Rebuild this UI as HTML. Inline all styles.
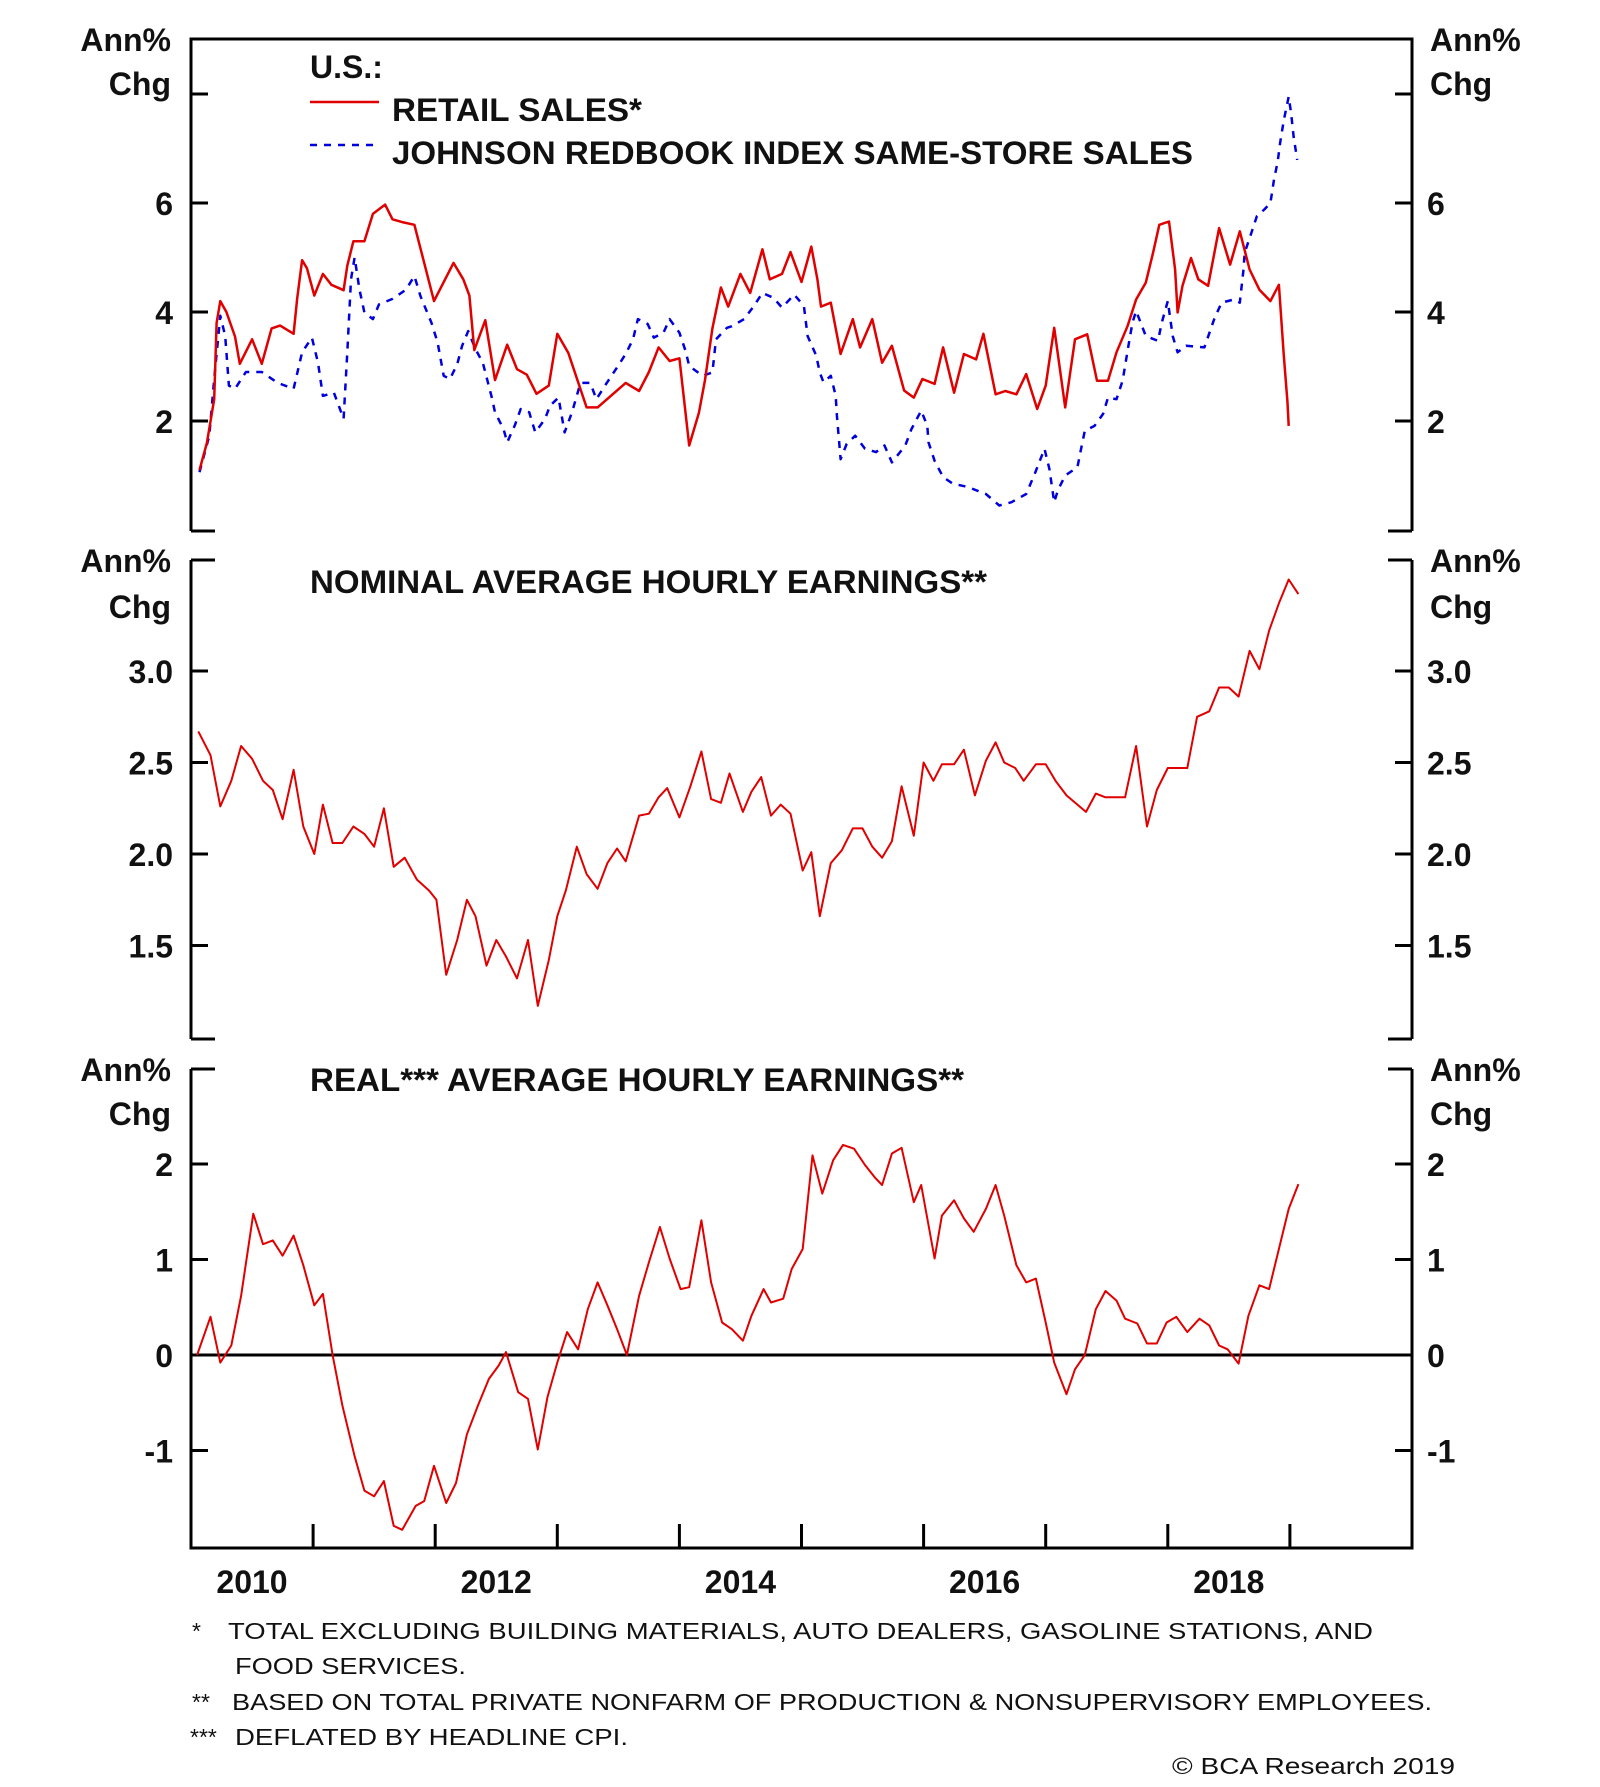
<!DOCTYPE html>
<html><head><meta charset="utf-8"><style>
html,body{margin:0;padding:0;background:#fff;}
svg{display:block;}
text{font-family:"Liberation Sans",sans-serif;}
.lab{font-weight:bold;font-size:32px;fill:#111;}
.foot{font-size:23px;fill:#111;}
</style></head><body>
<svg id="chart" width="1600" height="1787" viewBox="0 0 1600 1787" xmlns="http://www.w3.org/2000/svg">
<g id="frame"></g>
<g id="marks"></g>
<g id="labels">
  <text class="lab" x="171" y="51" text-anchor="end">Ann%</text>
  <text class="lab" x="171" y="95" text-anchor="end">Chg</text>
  <text class="lab" x="1430" y="51">Ann%</text>
  <text class="lab" x="1430" y="95">Chg</text>
  <text class="lab" x="171" y="572" text-anchor="end">Ann%</text>
  <text class="lab" x="171" y="618" text-anchor="end">Chg</text>
  <text class="lab" x="1430" y="572">Ann%</text>
  <text class="lab" x="1430" y="618">Chg</text>
  <text class="lab" x="171" y="1081" text-anchor="end">Ann%</text>
  <text class="lab" x="171" y="1125" text-anchor="end">Chg</text>
  <text class="lab" x="1430" y="1081">Ann%</text>
  <text class="lab" x="1430" y="1125">Chg</text>

  <text class="lab" x="310" y="78">U.S.:</text>
  <line x1="310" y1="102" x2="379" y2="102" stroke="#e00000" stroke-width="2.5"/>
  <text class="lab" x="392" y="121" textLength="250" lengthAdjust="spacingAndGlyphs">RETAIL SALES*</text>
  <line x1="310" y1="145" x2="379" y2="145" stroke="#0000dd" stroke-width="2.5" stroke-dasharray="7,7"/>
  <text class="lab" x="392" y="164" textLength="801" lengthAdjust="spacingAndGlyphs">JOHNSON REDBOOK INDEX SAME-STORE SALES</text>
  <text class="lab" x="310" y="593" textLength="677" lengthAdjust="spacingAndGlyphs">NOMINAL AVERAGE HOURLY EARNINGS**</text>
  <text class="lab" x="310" y="1091" textLength="654" lengthAdjust="spacingAndGlyphs">REAL*** AVERAGE HOURLY EARNINGS**</text>

  <text class="foot" x="192" y="1639">*</text>
  <text class="foot" x="228" y="1639" textLength="1145" lengthAdjust="spacingAndGlyphs">TOTAL EXCLUDING BUILDING MATERIALS, AUTO DEALERS, GASOLINE STATIONS, AND</text>
  <text class="foot" x="235" y="1674" textLength="231" lengthAdjust="spacingAndGlyphs">FOOD SERVICES.</text>
  <text class="foot" x="192" y="1710">**</text>
  <text class="foot" x="232" y="1710" textLength="1200" lengthAdjust="spacingAndGlyphs">BASED ON TOTAL PRIVATE NONFARM OF PRODUCTION &amp; NONSUPERVISORY EMPLOYEES.</text>
  <text class="foot" x="190" y="1745">***</text>
  <text class="foot" x="235" y="1745" textLength="393" lengthAdjust="spacingAndGlyphs">DEFLATED BY HEADLINE CPI.</text>
  <text class="foot" x="1455" y="1774" text-anchor="end" textLength="283" lengthAdjust="spacingAndGlyphs">© BCA Research 2019</text>
</g>
</svg>
<script>
// ---- data ----
const yearTicks = [2011,2012,2013,2014,2015,2016,2017,2018,2019];
const yearLabels = [2010,2012,2014,2016,2018];
const p1Ticks = [2,4,6,8];
const p1TickLabels = ["2","4","6",""];
const p2Ticks = [1.5,2.0,2.5,3.0];
const p2TickLabels = ["1.5","2.0","2.5","3.0"];
const p3Ticks = [-1,0,1,2];
const p3TickLabels = ["-1","0","1","2"];

const retailT = [0.07,0.13,0.19,0.21,0.24,0.29,0.36,0.40,0.50,0.58,0.66,0.73,0.84,0.87,0.91,0.95,1.01,1.08,1.15,1.25,1.28,1.33,1.42,1.49,1.59,1.65,1.73,1.83,1.91,1.99,2.15,2.23,2.28,2.32,2.41,2.49,2.59,2.67,2.75,2.83,2.93,3.00,3.09,3.24,3.33,3.56,3.67,3.75,3.83,3.92,4.00,4.08,4.16,4.21,4.27,4.34,4.40,4.50,4.58,4.68,4.74,4.84,4.91,5.00,5.08,5.13,5.16,5.24,5.32,5.42,5.48,5.58,5.66,5.74,5.84,5.92,5.99,6.09,6.16,6.25,6.33,6.43,6.49,6.59,6.67,6.76,6.84,6.93,7.00,7.07,7.16,7.24,7.34,7.42,7.51,7.58,7.67,7.74,7.82,7.88,7.93,8.01,8.06,8.08,8.12,8.19,8.25,8.33,8.42,8.51,8.59,8.67,8.75,8.84,8.91,8.95,8.98,8.99];
const retailV = [1.1,1.6,2.4,3.8,4.2,4.0,3.55,3.05,3.5,3.05,3.7,3.75,3.6,4.25,4.95,4.8,4.3,4.7,4.5,4.4,4.85,5.3,5.3,5.8,5.97,5.7,5.65,5.6,4.9,4.2,4.9,4.6,4.3,3.3,3.85,2.75,3.4,2.95,2.85,2.5,2.65,3.6,3.25,2.25,2.25,2.7,2.55,2.9,3.35,3.1,3.15,1.55,2.15,2.75,3.7,4.45,4.1,4.7,4.35,5.15,4.6,4.7,5.1,4.55,5.2,4.6,4.1,4.17,3.23,3.87,3.35,3.87,3.07,3.38,2.56,2.43,2.77,2.68,3.35,2.52,3.23,3.13,3.6,2.49,2.55,2.49,2.86,2.22,2.65,3.71,2.25,3.5,3.59,2.74,2.74,3.26,3.74,4.23,4.54,5.09,5.6,5.66,4.78,3.99,4.48,4.99,4.6,4.48,5.54,4.87,5.48,4.78,4.41,4.2,4.5,3.2,2.34,1.91];

const redbookT = [0.07,0.15,0.19,0.24,0.28,0.31,0.36,0.45,0.58,0.71,0.84,0.91,0.99,1.04,1.08,1.17,1.25,1.28,1.31,1.34,1.38,1.42,1.49,1.54,1.65,1.76,1.83,1.88,1.97,2.02,2.07,2.12,2.18,2.22,2.27,2.33,2.39,2.46,2.49,2.56,2.59,2.65,2.70,2.77,2.82,2.90,2.94,3.01,3.06,3.12,3.19,3.27,3.32,3.40,3.48,3.56,3.62,3.66,3.74,3.79,3.87,3.92,4.00,4.05,4.08,4.19,4.27,4.30,4.39,4.43,4.53,4.61,4.68,4.77,4.84,4.94,5.02,5.05,5.12,5.15,5.18,5.24,5.28,5.29,5.32,5.37,5.44,5.52,5.61,5.68,5.74,5.85,5.90,5.98,6.03,6.04,6.09,6.16,6.24,6.36,6.51,6.62,6.72,6.84,6.91,6.99,7.03,7.07,7.10,7.16,7.26,7.29,7.32,7.40,7.47,7.51,7.58,7.63,7.68,7.71,7.74,7.82,7.92,7.95,8.00,8.04,8.08,8.15,8.30,8.38,8.44,8.54,8.59,8.62,8.63,8.68,8.73,8.79,8.84,8.87,8.90,8.92,8.95,8.99,9.01,9.03,9.06];
const redbookV = [1.06,1.73,2.77,3.93,3.56,2.65,2.59,2.9,2.9,2.7,2.59,3.26,3.53,3.07,2.46,2.52,2.04,3.26,4.6,5.0,4.41,3.99,3.87,4.14,4.24,4.41,4.66,4.29,3.8,3.44,2.83,2.77,3.04,3.38,3.65,3.32,3.07,2.46,2.16,1.85,1.61,1.91,2.22,2.16,1.79,2.04,2.28,2.43,1.79,2.16,2.7,2.7,2.4,2.68,2.95,3.23,3.5,3.87,3.78,3.53,3.62,3.87,3.62,3.29,3.01,2.83,2.89,3.5,3.71,3.74,3.87,4.11,4.35,4.26,4.08,4.32,4.11,3.56,3.2,2.89,2.71,2.83,2.46,2.1,1.3,1.58,1.73,1.49,1.43,1.55,1.24,1.55,1.85,2.19,1.91,1.61,1.27,0.97,0.85,0.79,0.66,0.45,0.51,0.66,1.03,1.49,1.12,0.51,0.73,1.0,1.15,1.49,1.82,1.91,2.13,2.43,2.4,2.74,3.41,3.8,4.02,3.56,3.47,3.8,4.2,3.56,3.26,3.38,3.35,3.87,4.17,4.23,4.17,4.78,5.09,5.42,5.76,5.88,6.0,6.43,6.76,7.1,7.52,7.95,7.65,7.22,6.79];

const nominalT = [0.06,0.16,0.24,0.33,0.41,0.50,0.59,0.67,0.75,0.84,0.92,1.01,1.08,1.16,1.24,1.33,1.42,1.50,1.58,1.66,1.75,1.85,1.95,2.01,2.09,2.18,2.26,2.33,2.42,2.50,2.58,2.67,2.76,2.84,2.93,3.00,3.07,3.16,3.24,3.33,3.41,3.49,3.56,3.67,3.75,3.83,3.90,4.00,4.09,4.18,4.26,4.34,4.41,4.52,4.59,4.67,4.75,4.83,4.91,5.01,5.08,5.15,5.24,5.33,5.42,5.50,5.58,5.66,5.74,5.82,5.92,6.00,6.08,6.15,6.25,6.33,6.42,6.51,6.59,6.66,6.75,6.82,6.92,7.00,7.08,7.17,7.26,7.33,7.41,7.49,7.65,7.74,7.83,7.91,8.00,8.16,8.24,8.34,8.42,8.50,8.58,8.67,8.75,8.83,8.91,8.99,9.07];
const nominalV = [2.67,2.54,2.26,2.40,2.59,2.52,2.40,2.35,2.19,2.46,2.15,2.0,2.27,2.06,2.06,2.15,2.11,2.04,2.25,1.93,1.98,1.86,1.80,1.75,1.34,1.53,1.75,1.66,1.39,1.53,1.44,1.32,1.53,1.17,1.42,1.66,1.80,2.04,1.89,1.81,1.95,2.03,1.96,2.21,2.22,2.31,2.36,2.20,2.37,2.56,2.30,2.28,2.44,2.23,2.34,2.42,2.21,2.27,2.22,1.91,2.01,1.66,1.95,2.02,2.14,2.14,2.04,1.98,2.07,2.37,2.10,2.50,2.40,2.49,2.49,2.57,2.32,2.51,2.61,2.50,2.47,2.40,2.49,2.49,2.40,2.32,2.27,2.23,2.33,2.31,2.31,2.59,2.15,2.35,2.47,2.47,2.75,2.78,2.91,2.91,2.86,3.11,3.01,3.22,3.37,3.50,3.42];

const realT = [0.05,0.16,0.24,0.33,0.41,0.51,0.59,0.67,0.75,0.84,0.92,1.01,1.08,1.16,1.24,1.34,1.42,1.50,1.58,1.66,1.73,1.84,1.91,1.99,2.09,2.17,2.26,2.35,2.44,2.52,2.58,2.68,2.76,2.84,2.92,3.00,3.08,3.17,3.25,3.33,3.41,3.49,3.57,3.67,3.75,3.84,3.92,4.01,4.08,4.18,4.26,4.35,4.43,4.52,4.59,4.69,4.75,4.85,4.92,5.01,5.05,5.09,5.17,5.26,5.34,5.43,5.52,5.60,5.66,5.74,5.82,5.92,5.98,6.09,6.15,6.25,6.33,6.41,6.51,6.59,6.66,6.76,6.84,6.92,7.00,7.07,7.17,7.24,7.32,7.41,7.49,7.58,7.65,7.75,7.83,7.91,7.99,8.07,8.16,8.26,8.34,8.42,8.49,8.58,8.66,8.75,8.83,8.91,8.99,9.07];
const realV = [0,0.40,-0.08,0.10,0.62,1.48,1.16,1.20,1.04,1.25,0.94,0.52,0.64,0,-0.53,-1.06,-1.42,-1.48,-1.32,-1.79,-1.83,-1.58,-1.53,-1.16,-1.55,-1.34,-0.83,-0.53,-0.25,-0.11,0.03,-0.39,-0.46,-0.99,-0.44,-0.08,0.24,0.06,0.48,0.76,0.52,0.27,0,0.62,0.97,1.34,1.01,0.69,0.71,1.41,0.76,0.34,0.27,0.15,0.41,0.69,0.55,0.59,0.90,1.11,1.60,2.09,1.69,2.04,2.20,2.16,1.99,1.86,1.78,2.11,2.17,1.60,1.78,1.01,1.46,1.62,1.43,1.29,1.53,1.78,1.46,0.94,0.76,0.80,0.34,-0.08,-0.41,-0.15,0,0.48,0.67,0.57,0.38,0.33,0.12,0.12,0.34,0.40,0.24,0.38,0.31,0.10,0.06,-0.09,0.41,0.73,0.69,1.11,1.53,1.79];

// ---- scales ----
const XL = 191, XR = 1412;
function xs(t){ return XL + t*122.1; }
function xYear(y){ return xs(y-2010); }
function y1(v){ return 203 - (v-6)*54.5; }
function y2(v){ return 671 - (v-3)*183; }
function y3(v){ return 1355 - v*95.5; }

const NS = "http://www.w3.org/2000/svg";
const frame = document.getElementById('frame');
const marks = document.getElementById('marks');
const labels = document.getElementById('labels');
function mk(tag, attrs, parent){
  const e = document.createElementNS(NS, tag);
  for (const k in attrs) e.setAttribute(k, attrs[k]);
  parent.appendChild(e);
  return e;
}
function seg(x1,y1_,x2,y2_,w){
  const l = mk('line',{x1:x1,y1:y1_,x2:x2,y2:y2_,stroke:'#000','stroke-width':w||3},frame);
  
  
  return l;
}

const panels = [[39,531],[560,1039],[1069,1548]];
const stub = 24;
panels.forEach((p,i)=>{
  seg(XL,p[0],XL,p[1]); seg(XR,p[0],XR,p[1]);
  if (i===0) seg(XL-1.5,p[0],XR+1.5,p[0]); else { seg(XL,p[0],XL+stub,p[0]); seg(XR-stub,p[0],XR,p[0]); }
  if (i===2) seg(XL-1.5,p[1],XR+1.5,p[1]); else { seg(XL,p[1],XL+stub,p[1]); seg(XR-stub,p[1],XR,p[1]); }
});

function yTicks(ticks, tlabels, fy, name){
  ticks.forEach((v,i)=>{
    const y = fy(v);
    seg(XL,y,XL+17,y); seg(XR-17,y,XR,y);
    if (tlabels[i]!==""){
      const a = mk('text',{x:173,y:y+12,'text-anchor':'end','class':'lab'},labels);
      a.textContent = tlabels[i];
      
      
      const b = mk('text',{x:1427,y:y+12,'class':'lab'},labels);
      b.textContent = tlabels[i];
      
      
    }
  });
}
yTicks(p1Ticks,p1TickLabels,y1,'panel1');
yTicks(p2Ticks,p2TickLabels,y2,'panel2');
yTicks(p3Ticks,p3TickLabels,y3,'panel3');
const z = seg(XL,y3(0),XR,y3(0),3);


yearTicks.forEach(yr=>{ seg(xYear(yr),1548,xYear(yr),1524); });
yearLabels.forEach(yr=>{
  const t = mk('text',{x:xYear(yr)+61,y:1593,'text-anchor':'middle','class':'lab'},labels);
  t.textContent = yr;
  
  
});

function line(T,V,fy,color,dash,w,name){
  const d = T.map((t,i)=>(i?'L':'M')+xs(t).toFixed(1)+','+fy(V[i]).toFixed(1)).join(' ');
  const p = mk('path',{d:d,fill:'none',stroke:color,'stroke-width':w,'stroke-linejoin':'round'},marks);
  if (dash) p.setAttribute('stroke-dasharray', dash);
  
  
}
line(redbookT,redbookV,y1,'#0000dd','7,7',2.5,'redbook-line');
line(retailT,retailV,y1,'#e00000',null,2.5,'retail-sales-line');
line(nominalT,nominalV,y2,'#e00000',null,2,'nominal-earnings-line');
line(realT,realV,y3,'#e00000',null,2,'real-earnings-line');
</script>
</body></html>
